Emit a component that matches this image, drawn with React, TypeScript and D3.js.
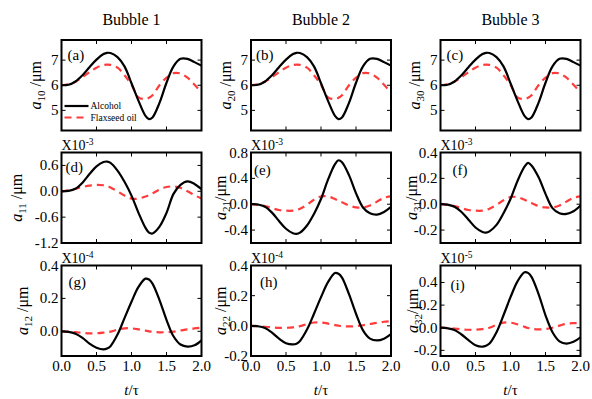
import React from "react";
import * as d3 from "d3";

// ---- data ----
const times = [0, 0.1, 0.2, 0.3, 0.4, 0.5, 0.6, 0.65, 0.7, 0.8, 0.9, 1.0, 1.1, 1.2, 1.25, 1.3, 1.4, 1.5, 1.6, 1.7, 1.8, 1.9, 2.0];
const xTicks = [0, 0.5, 1.0, 1.5, 2.0];
const bubbleTitles = ["Bubble 1", "Bubble 2", "Bubble 3"];
const seriesNames = ["Alcohol", "Flaxseed oil"];

const a0Alcohol = [6.0, 6.02, 6.15, 6.4, 6.72, 7.02, 7.24, 7.29, 7.28, 7.12, 6.75, 6.08, 5.38, 4.78, 4.65, 4.72, 5.3, 6.1, 6.75, 7.05, 7.05, 6.92, 6.78];
const a0Flax = [6.0, 6.04, 6.14, 6.32, 6.52, 6.7, 6.8, 6.82, 6.81, 6.7, 6.4, 6.02, 5.52, 5.45, 5.5, 5.6, 6.0, 6.3, 6.48, 6.47, 6.3, 6.02, 5.72];

const a11Alcohol = [0, 0.01, 0.06, 0.2, 0.4, 0.58, 0.68, 0.69, 0.66, 0.48, 0.22, -0.1, -0.5, -0.85, -0.96, -0.98, -0.82, -0.5, -0.06, 0.15, 0.23, 0.17, 0.05];
const a11Flax = [0, 0.02, 0.06, 0.1, 0.13, 0.15, 0.14, 0.12, 0.09, 0.0, -0.1, -0.17, -0.17, -0.12, -0.09, -0.05, 0.04, 0.1, 0.11, 0.08, 0.0, -0.09, -0.17];

const a21Alcohol = [0, -0.005, -0.04, -0.13, -0.26, -0.38, -0.45, -0.46, -0.44, -0.33, -0.15, 0.08, 0.38, 0.62, 0.68, 0.65, 0.45, 0.17, -0.05, -0.14, -0.16, -0.12, -0.04];
const a21Flax = [0, -0.01, -0.03, -0.06, -0.09, -0.1, -0.1, -0.09, -0.07, -0.01, 0.07, 0.12, 0.12, 0.08, 0.055, 0.03, -0.02, -0.05, -0.05, -0.02, 0.04, 0.1, 0.12];

const a31Alcohol = [0, -0.003, -0.02, -0.06, -0.12, -0.18, -0.215, -0.22, -0.21, -0.16, -0.07, 0.04, 0.18, 0.29, 0.32, 0.3, 0.21, 0.08, -0.03, -0.07, -0.075, -0.055, -0.01];
const a31Flax = [0, -0.005, -0.015, -0.03, -0.045, -0.05, -0.05, -0.045, -0.035, -0.005, 0.03, 0.055, 0.055, 0.035, 0.022, 0.01, -0.015, -0.025, -0.025, -0.01, 0.02, 0.05, 0.06];

const a12Alcohol = [0, -0.003, -0.015, -0.04, -0.075, -0.1, -0.11, -0.105, -0.09, -0.02, 0.08, 0.18, 0.27, 0.32, 0.315, 0.29, 0.19, 0.07, -0.03, -0.08, -0.093, -0.085, -0.055];
const a12Flax = [0, -0.002, -0.005, -0.009, -0.012, -0.012, -0.008, -0.005, -0.002, 0.01, 0.018, 0.018, 0.012, 0.004, 0.0, -0.003, -0.006, -0.005, -0.002, 0.005, 0.012, 0.018, 0.022];

const a22Alcohol = [0, -0.003, -0.015, -0.045, -0.085, -0.115, -0.123, -0.118, -0.1, -0.025, 0.08, 0.19, 0.29, 0.35, 0.345, 0.32, 0.21, 0.08, -0.03, -0.085, -0.097, -0.085, -0.055];
const a22Flax = [0, -0.002, -0.006, -0.01, -0.013, -0.013, -0.01, -0.006, -0.002, 0.012, 0.022, 0.022, 0.015, 0.005, 0.001, -0.002, -0.004, -0.002, 0.004, 0.012, 0.02, 0.027, 0.03];

const a32Alcohol = [0, -0.005, -0.02, -0.06, -0.11, -0.155, -0.168, -0.16, -0.14, -0.04, 0.11, 0.27, 0.41, 0.49, 0.485, 0.45, 0.3, 0.11, -0.04, -0.12, -0.14, -0.125, -0.085];
const a32Flax = [0, -0.003, -0.008, -0.014, -0.018, -0.018, -0.012, -0.006, 0.0, 0.025, 0.045, 0.045, 0.03, 0.008, -0.002, -0.01, -0.015, -0.012, 0.0, 0.018, 0.035, 0.04, 0.04];

// ---- panel definitions ----
type Panel = {
  tag: string; sub: string; row: number; col: number;
  alc: number[]; flax: number[]; domain: [number, number]; ticks: number[];
  dec: number; exp?: string; labelDx: number; labelDy: number; yLabelX: number; slash: string;
};

const panels: Panel[] = [
  { tag: "(a)", sub: "10", row: 0, col: 0, alc: a0Alcohol, flax: a0Flax, domain: [4.2, 7.8], ticks: [5, 6, 7], dec: 0, labelDx: 6, labelDy: 20, yLabelX: 41, slash: " /μm" },
  { tag: "(b)", sub: "20", row: 0, col: 1, alc: a0Alcohol, flax: a0Flax, domain: [4.2, 7.8], ticks: [5, 6, 7], dec: 0, labelDx: 5, labelDy: 20, yLabelX: 231, slash: " /μm" },
  { tag: "(c)", sub: "30", row: 0, col: 2, alc: a0Alcohol, flax: a0Flax, domain: [4.2, 7.8], ticks: [5, 6, 7], dec: 0, labelDx: 6, labelDy: 20, yLabelX: 420, slash: " /μm" },
  { tag: "(d)", sub: "11", row: 1, col: 0, alc: a11Alcohol, flax: a11Flax, domain: [-1.2, 0.9], ticks: [-1.2, -0.6, 0, 0.6], dec: 1, exp: "-3", labelDx: 4, labelDy: 19, yLabelX: 22, slash: " /μm" },
  { tag: "(e)", sub: "21", row: 1, col: 1, alc: a21Alcohol, flax: a21Flax, domain: [-0.6, 0.8], ticks: [-0.4, 0, 0.4, 0.8], dec: 1, exp: "-3", labelDx: 3, labelDy: 22, yLabelX: 226, slash: "/μm" },
  { tag: "(f)", sub: "31", row: 1, col: 2, alc: a31Alcohol, flax: a31Flax, domain: [-0.3, 0.4], ticks: [-0.2, 0, 0.2, 0.4], dec: 1, exp: "-3", labelDx: 12, labelDy: 22, yLabelX: 417, slash: "/μm" },
  { tag: "(g)", sub: "12", row: 2, col: 0, alc: a12Alcohol, flax: a12Flax, domain: [-0.15, 0.4], ticks: [0, 0.2, 0.4], dec: 1, exp: "-4", labelDx: 7, labelDy: 21, yLabelX: 28, slash: " /μm" },
  { tag: "(h)", sub: "22", row: 2, col: 1, alc: a22Alcohol, flax: a22Flax, domain: [-0.2, 0.4], ticks: [-0.2, 0, 0.2, 0.4], dec: 1, exp: "-4", labelDx: 9, labelDy: 21, yLabelX: 226, slash: " /μm" },
  { tag: "(i)", sub: "32", row: 2, col: 2, alc: a32Alcohol, flax: a32Flax, domain: [-0.25, 0.55], ticks: [-0.2, 0, 0.2, 0.4], dec: 1, exp: "-5", labelDx: 10, labelDy: 24, yLabelX: 418, slash: "/μm" },
];

// ---- layout ----
const W = 592, H = 399;
const colLeft = [61.5, 251, 440.5];
const panelW = 140;
const rowTop = [40, 152.5, 265.5];
const panelH = 90.5;
const FONT = "Liberation Serif, Tinos, Times New Roman, DejaVu Serif, serif";
const RED = "#ff3b3b";
const TICK = 4;

function PanelView({ p }: { p: Panel }) {
  const x0 = colLeft[p.col];
  const y0 = rowTop[p.row];
  const x = d3.scaleLinear().domain([0, 2]).range([x0, x0 + panelW]);
  const y = d3.scaleLinear().domain(p.domain).range([y0 + panelH, y0]);
  const line = d3.line<number>()
    .x((_, i) => x(times[i]))
    .y((d) => y(d))
    .curve(d3.curveCatmullRom.alpha(0.5));
  const fmt = (v: number) => (p.dec === 0 ? String(v) : (v < 0 ? "-" : "") + Math.abs(v).toFixed(p.dec));
  const isBottom = p.row === 2;
  const cy = y0 + panelH / 2;
  const cid = "clip" + p.tag.replace(/[()]/g, "");
  return (
    <g>
      <defs>
        <clipPath id={cid}>
          <rect x={x0} y={y0} width={panelW} height={panelH} />
        </clipPath>
      </defs>
      <g clipPath={`url(#${cid})`}>
        <path d={line(p.flax) || ""} fill="none" stroke={RED} strokeWidth={2.2} strokeDasharray="7 5" />
        <path d={line(p.alc) || ""} fill="none" stroke="#000" strokeWidth={2.2} />
      </g>
      {xTicks.map((t) => (
        <g key={"xt" + t}>
          <line x1={x(t)} x2={x(t)} y1={y0 + panelH} y2={y0 + panelH - TICK} stroke="#000" strokeWidth={1} />
          <line x1={x(t)} x2={x(t)} y1={y0} y2={y0 + TICK} stroke="#000" strokeWidth={1} />
          {isBottom && (
            <text x={x(t)} y={y0 + panelH + 15} textAnchor="middle" fontSize={15} fontFamily={FONT}>
              {t.toFixed(1)}
            </text>
          )}
        </g>
      ))}
      {p.ticks.map((t) => (
        <g key={"yt" + t}>
          <line x1={x0} x2={x0 + TICK} y1={y(t)} y2={y(t)} stroke="#000" strokeWidth={1} />
          <line x1={x0 + panelW} x2={x0 + panelW - TICK} y1={y(t)} y2={y(t)} stroke="#000" strokeWidth={1} />
          <text x={x0 - 3} y={y(t) + 5} textAnchor="end" fontSize={15} fontFamily={FONT}>
            {fmt(t)}
          </text>
        </g>
      ))}
      <rect x={x0} y={y0} width={panelW} height={panelH} fill="none" stroke="#000" strokeWidth={2} />
      <text x={x0 + p.labelDx} y={y0 + p.labelDy} fontSize={15} fontFamily={FONT}>{p.tag}</text>
      {p.exp && (
        <text x={x0} y={y0 - 3} fontSize={14} fontFamily={FONT}>
          X10<tspan dy={-5} fontSize={9.5}>{p.exp}</tspan>
        </text>
      )}
      <text
        transform={`translate(${p.yLabelX},${cy}) rotate(-90)`}
        textAnchor="middle"
        fontSize={16}
        fontFamily={FONT}
      >
        <tspan fontStyle="italic">a</tspan>
        <tspan dy={4} fontSize={11}>{p.sub}</tspan>
        <tspan dy={-4}>{p.slash}</tspan>
      </text>
      {isBottom && (
        <text x={x0 + panelW / 2} y={H - 4} textAnchor="middle" fontSize={15} fontFamily={FONT}>
          <tspan fontStyle="italic">t</tspan>/τ
        </text>
      )}
    </g>
  );
}

export default function App() {
  const lx = colLeft[0];
  return (
    <svg width={W} height={H} style={{ position: "absolute", left: 0, top: 0, background: "#fff" }}>
      <rect width={W} height={H} fill="#fff" />
      {bubbleTitles.map((t, i) => (
        <text key={t} x={colLeft[i] + panelW / 2} y={25} textAnchor="middle" fontSize={16} fontFamily={FONT}>
          {t}
        </text>
      ))}
      {panels.map((p) => (
        <PanelView key={p.tag} p={p} />
      ))}
      <line x1={lx + 3} x2={lx + 27} y1={106} y2={106} stroke="#000" strokeWidth={2.2} />
      <text x={lx + 29} y={109} fontSize={9.5} fontFamily={FONT}>{seriesNames[0]}</text>
      <line x1={lx + 3} x2={lx + 27} y1={117.5} y2={117.5} stroke={RED} strokeWidth={2.2} strokeDasharray="7 5" />
      <text x={lx + 29} y={120.5} fontSize={9.5} fontFamily={FONT}>{seriesNames[1]}</text>
    </svg>
  );
}
